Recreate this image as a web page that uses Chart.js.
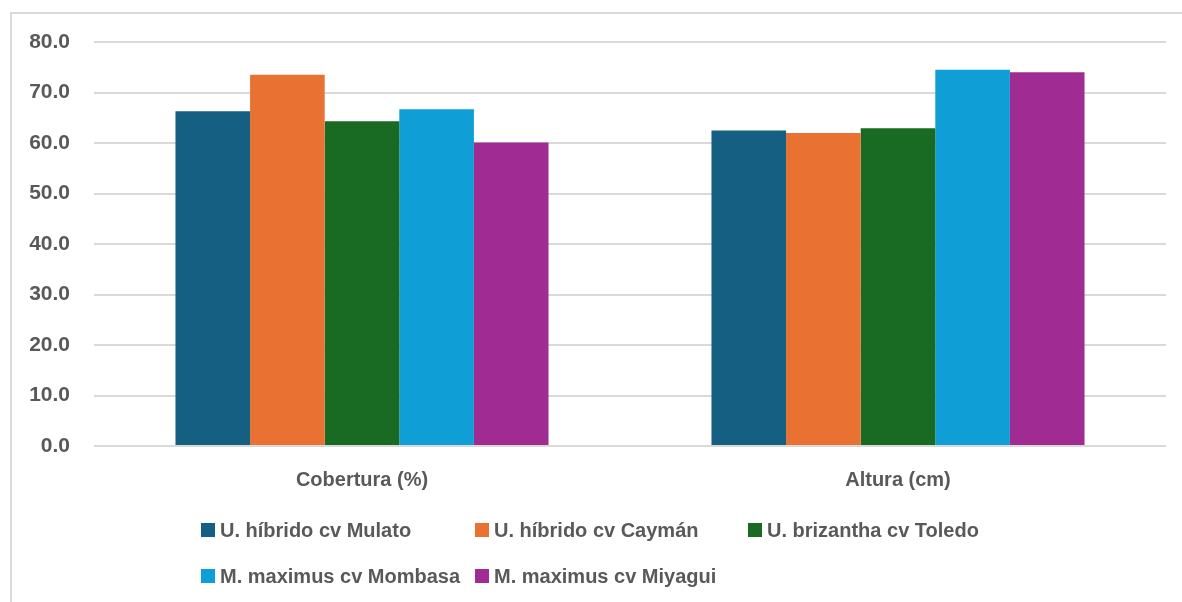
<!DOCTYPE html>
<html>
<head>
<meta charset="utf-8">
<script src="https://cdn.jsdelivr.net/npm/chart.js@4/dist/chart.umd.min.js"></script>
<style>
  html, body { margin: 0; padding: 0; background: #fff; overflow: hidden; }
  #wrap { position: relative; width: 1182px; height: 602px; }
  #frame {
    position: absolute; left: 10px; top: 12px; width: 1300px; height: 700px;
    border-left: 2px solid #d9d9d9; border-top: 2px solid #d9d9d9;
  }
  #chart { position: absolute; left: 0; top: 0; }
  #legend {
    position: absolute; left: 201px; top: 516px;
    display: grid; grid-template-columns: 274px 273px 273px;
    row-gap: 18px;
    font: bold 20px "Liberation Sans", Arial, sans-serif; color: #595959;
  }
  .item { display: flex; align-items: center; white-space: nowrap; height: 28px; }
  .box { width: 14px; height: 14px; margin-right: 5px; flex: none; }
</style>
</head>
<body>
<div id="wrap">
  <div id="frame"></div>
  <canvas id="chart" width="1182" height="602"></canvas>
  <div id="legend"></div>
</div>
<script>
const categories = ["Cobertura (%)", "Altura (cm)"];
const seriesNames = [
  "U. híbrido cv Mulato",
  "U. híbrido cv Caymán",
  "U. brizantha cv Toledo",
  "M. maximus cv Mombasa",
  "M. maximus cv Miyagui",
];
const mulato = [66.3, 62.5];
const cayman = [73.5, 62.0];
const toledo = [64.3, 62.9];
const mombasa = [66.7, 74.5];
const miyagui = [60.1, 74.0];
const seriesColors = ["#156082", "#E97132", "#196B24", "#0F9ED5", "#A02B93"];

const textColor = "#595959";
const fontFamily = '"Liberation Sans", Arial, sans-serif';

function buildDatasets() {
  const values = [mulato, cayman, toledo, mombasa, miyagui];
  return seriesNames.map((name, i) => ({
    label: name,
    data: values[i],
    backgroundColor: seriesColors[i],
    borderWidth: 0,
    barPercentage: 1.0,
    categoryPercentage: 0.696,
  }));
}

function buildLegend() {
  const legend = document.getElementById("legend");
  seriesNames.forEach((name, i) => {
    const item = document.createElement("div");
    item.className = "item";
    const box = document.createElement("span");
    box.className = "box";
    box.style.background = seriesColors[i];
    const label = document.createElement("span");
    label.textContent = name;
    item.appendChild(box);
    item.appendChild(label);
    legend.appendChild(item);
  });
}

window.addEventListener("load", () => {
  const ctx = document.getElementById("chart").getContext("2d");
  new Chart(ctx, {
    type: "bar",
    data: { labels: categories, datasets: buildDatasets() },
    options: {
      responsive: false,
      animation: false,
      layout: { padding: { top: 42, right: 16, bottom: 0, left: 0 } },
      plugins: { legend: { display: false }, tooltip: { enabled: false } },
      scales: {
        x: {
          grid: { display: false, drawTicks: false },
          border: { display: false },
          ticks: {
            color: textColor,
            padding: 22,
            font: { family: fontFamily, size: 20, weight: "bold" },
          },
          afterFit: (scale) => { scale.height = 156; },
        },
        y: {
          min: 0,
          max: 80,
          grid: { color: "#d9d9d9", lineWidth: 2, drawTicks: false },
          border: { display: false },
          ticks: {
            stepSize: 10,
            color: textColor,
            padding: 24,
            font: { family: fontFamily, size: 21, weight: "bold" },
            callback: (v) => v.toFixed(1),
          },
          afterFit: (scale) => { scale.width = 94; },
        },
      },
    },
  });
  buildLegend();
});
</script>
</body>
</html>
